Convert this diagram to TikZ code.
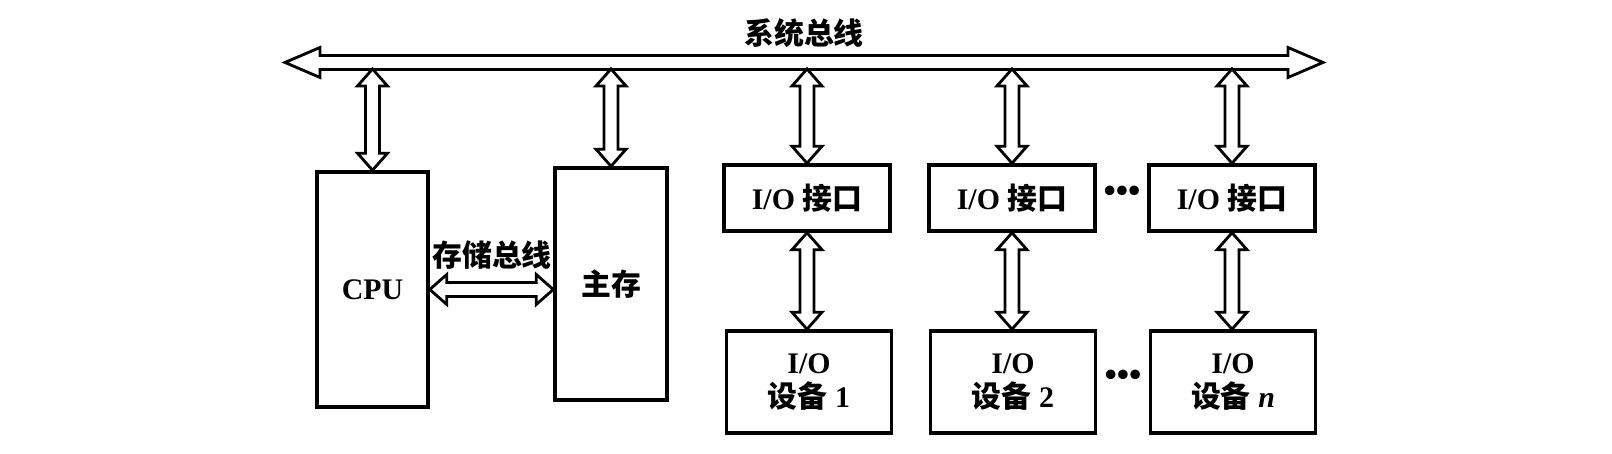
\documentclass[tikz,border=0pt]{standalone}
\usepackage{fontspec}
\setmainfont{Liberation Serif}
\newfontfamily\cjk{Noto Sans CJK SC}
\usetikzlibrary{positioning, calc}

\newcommand{\zh}[1]{{\cjk #1}}
\def\shafthalf{0.07cm}
\def\headhalf{0.15cm}

% hollow double arrow, vertical: #2 top end, #3 bottom end
\newcommand{\vdbl}[3][0.17cm]{%
  \draw[arrowline] let \p1=(#2), \p2=(#3) in
    (\x1,\y1) -- ({\x1+\headhalf},{\y1-#1}) -- ({\x1+\shafthalf},{\y1-#1})
    -- ({\x1+\shafthalf},{\y2+#1}) -- ({\x1+\headhalf},{\y2+#1}) -- (\x1,\y2)
    -- ({\x1-\headhalf},{\y2+#1}) -- ({\x1-\shafthalf},{\y2+#1})
    -- ({\x1-\shafthalf},{\y1-#1}) -- ({\x1-\headhalf},{\y1-#1}) -- cycle;}
% hollow double arrow, horizontal: #2 left end, #3 right end
\newcommand{\hdbl}[3][0.17cm]{%
  \draw[arrowline] let \p1=(#2), \p2=(#3) in
    (\x1,\y1) -- ({\x1+#1},{\y1+\headhalf}) -- ({\x1+#1},{\y1+\shafthalf})
    -- ({\x2-#1},{\y1+\shafthalf}) -- ({\x2-#1},{\y1+\headhalf}) -- (\x2,\y1)
    -- ({\x2-#1},{\y1-\headhalf}) -- ({\x2-#1},{\y1-\shafthalf})
    -- ({\x1+#1},{\y1-\shafthalf}) -- ({\x1+#1},{\y1-\headhalf}) -- cycle;}

\begin{document}
\begin{tikzpicture}[
    box/.style={draw, line width=1pt, inner sep=0pt, align=center},
    ifbox/.style={box, minimum width=1.66cm, minimum height=0.66cm},
    devbox/.style={box, minimum width=1.65cm, minimum height=1.02cm},
    arrowline/.style={line width=0.8pt, line join=miter},
    every node/.style={font=\bfseries\fontsize{8.5}{9.5}\selectfont}]
  \useasboundingbox (0,0) rectangle (16.12,4.54);

  % system bus
  \coordinate (busL) at (2.85,3.915);
  \coordinate (busR) at (13.23,3.915);
  \coordinate (busS) at (0,3.85);
  \hdbl[0.35cm]{busL}{busR}
  \node (sys) at (8.04,4.21) {\zh{系统总线}};

  \node[box, minimum width=1.11cm, minimum height=2.35cm] (cpu) at (3.725,1.645) {CPU};
  \node[box, minimum width=1.12cm, minimum height=2.32cm] (mem) at (6.11,1.70) {\zh{主存}};
  \node (mbus) at (4.92,1.99) {\zh{存储总线}};
  \hdbl{cpu.east}{cpu.east -| mem.west}

  \node[ifbox] (if1) at (8.07,2.56) {I/O \zh{接口}};
  \node[ifbox] (if2) at (10.12,2.56) {I/O \zh{接口}};
  \node[ifbox] (if3) at (12.32,2.56) {I/O \zh{接口}};
  \node[font=\bfseries\fontsize{10}{10}\selectfont] (dots1) at (11.22,2.60) {\textbullet\textbullet\textbullet};

  \node[devbox] (dev1) at (8.09,0.72) {I/O\\\zh{设备} 1};
  \node[devbox] (dev2) at (10.13,0.72) {I/O\\\zh{设备} 2};
  \node[devbox] (dev3) at (12.33,0.72) {I/O\\\zh{设备} \textit{n}};
  \node[font=\bfseries\fontsize{10}{10}\selectfont] (dots2) at (11.23,0.76) {\textbullet\textbullet\textbullet};

  % links to the bus
  \vdbl{cpu.north |- busS}{cpu.north}
  \vdbl{mem.north |- busS}{mem.north}
  \vdbl{if1.north |- busS}{if1.north}
  \vdbl{if2.north |- busS}{if2.north}
  \vdbl{if3.north |- busS}{if3.north}

  % interfaces to devices
  \vdbl{if1.south}{if1.south |- dev1.north}
  \vdbl{if2.south}{if2.south |- dev2.north}
  \vdbl{if3.south}{if3.south |- dev3.north}
\end{tikzpicture}
\end{document}
